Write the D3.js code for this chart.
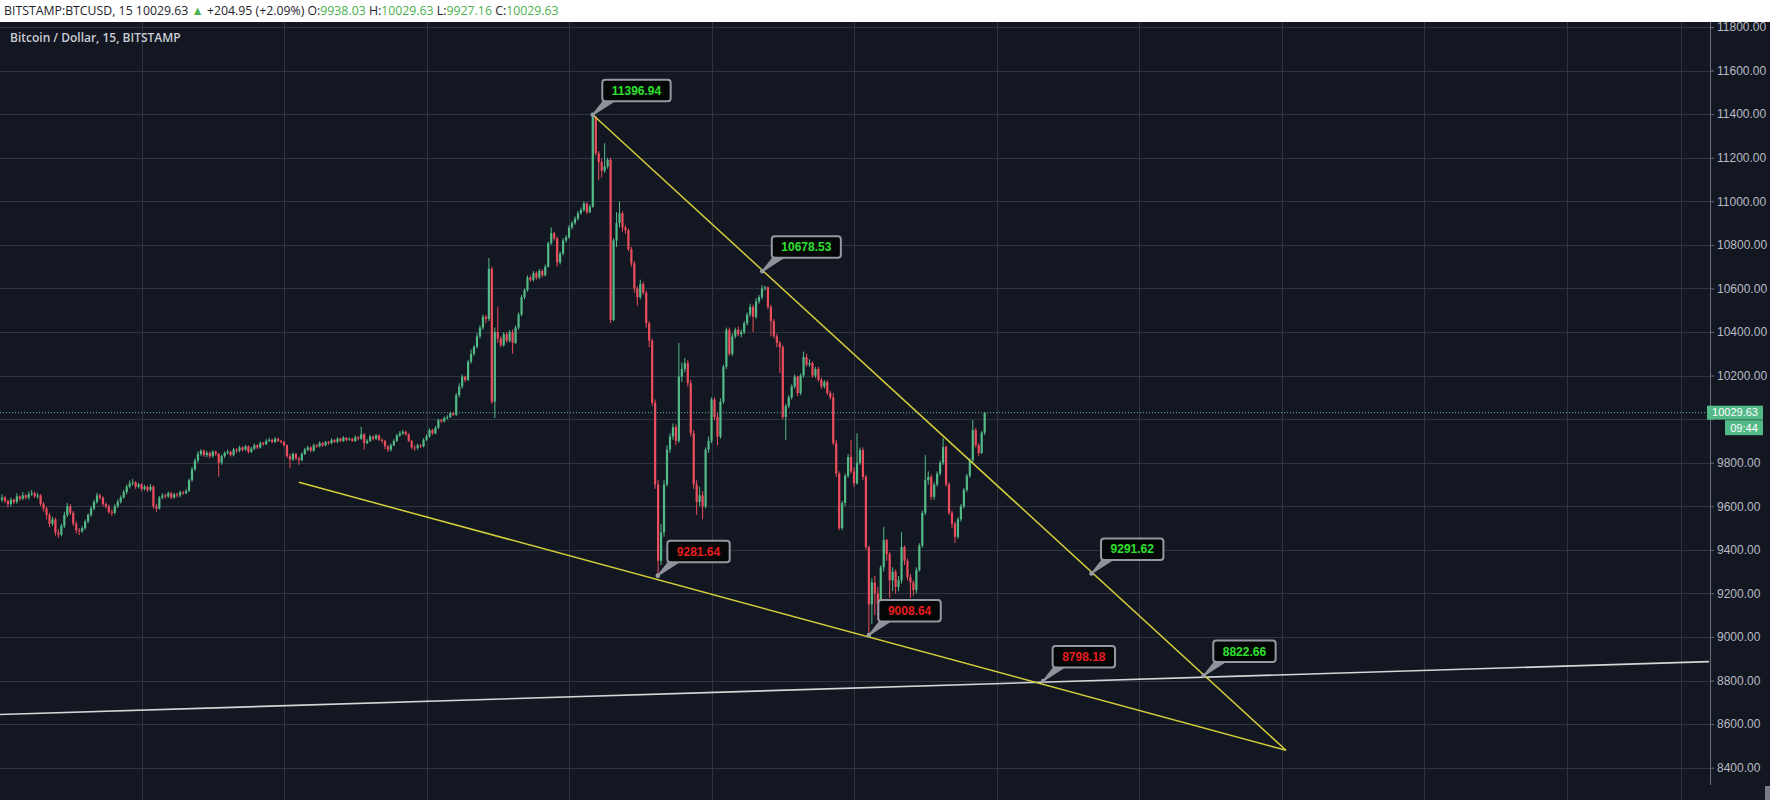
<!DOCTYPE html>
<html><head><meta charset="utf-8">
<script src="https://cdn.jsdelivr.net/npm/d3@7"></script>
<style>html,body{margin:0;padding:0;background:#131722;overflow:hidden}</style>
</head><body><svg id="c" width="1770" height="800"></svg>
<script>
// ---------- DATA ----------
const firstOpen = 9630;
const closeP = [
9640,9625,9610,9630,9620,9645,9635,9650,9640,9655,
9660,9645,9650,9610,9590,9560,9520,9540,9480,9470,
9510,9560,9600,9570,9520,9490,9485,9500,9530,9560,
9590,9620,9650,9640,9610,9600,9575,9570,9600,9620,
9640,9665,9690,9705,9710,9690,9700,9680,9690,9675,
9690,9600,9590,9640,9650,9645,9660,9640,9655,9650,
9665,9660,9670,9720,9770,9810,9840,9855,9835,9845,
9830,9850,9840,9800,9830,9845,9850,9835,9860,9855,
9870,9860,9875,9850,9865,9880,9870,9890,9885,9900,
9905,9895,9910,9900,9895,9880,9830,9815,9840,9820,
9812,9840,9860,9870,9855,9880,9875,9890,9880,9895,
9890,9905,9895,9910,9900,9915,9905,9910,9900,9917,
9910,9930,9890,9900,9920,9910,9925,9905,9900,9875,
9860,9880,9900,9925,9935,9942,9930,9900,9870,9867,
9880,9875,9905,9920,9950,9935,9960,9996,9990,10005,
10010,10028,10020,10110,10150,10195,10180,10264,10300,10332,
10380,10420,10470,10460,10690,10080,10400,10370,10340,10390,
10360,10400,10350,10420,10480,10560,10592,10650,10640,10670,
10650,10680,10660,10700,10808,10853,10830,10720,10760,10820,
10835,10880,10900,10920,10945,10960,10990,10950,10975,11390,
11220,11180,11140,11160,11190,10455,10820,10900,10945,10880,
10867,10780,10715,10600,10560,10620,10580,10440,10360,10075,
9700,9350,9480,9700,9860,9920,9963,9900,10195,10230,
10257,10165,9935,9700,9620,9650,9600,9860,9900,10090,
10010,9920,10080,10240,10410,10300,10380,10410,10390,10400,
10440,10480,10515,10470,10540,10560,10600,10605,10515,10450,
10380,10350,10330,10010,10060,10100,10150,10195,10120,10200,
10285,10250,10257,10200,10230,10180,10150,10170,10120,10100,
9890,9750,9500,9615,9740,9826,9760,9705,9800,9858,
9735,9413,9150,9250,9200,9150,9320,9445,9380,9260,
9300,9230,9260,9413,9350,9275,9250,9215,9307,9420,
9570,9720,9735,9643,9700,9750,9800,9872,9700,9570,
9520,9460,9540,9600,9675,9740,9812,9950,9880,9845,
9938.03,10029.63];
const highP = [
9655,9648,9630,9640,9635,9660,9650,9665,9655,9668,
9675,9668,9662,9655,9620,9598,9570,9552,9548,9495,
9520,9575,9615,9610,9578,9530,9500,9510,9540,9568,
9600,9630,9662,9658,9645,9618,9608,9585,9610,9632,
9650,9675,9700,9718,9725,9715,9708,9705,9698,9695,
9702,9695,9612,9648,9660,9658,9668,9665,9662,9662,
9672,9670,9680,9728,9780,9820,9852,9862,9860,9855,
9852,9858,9856,9845,9838,9852,9860,9855,9868,9866,
9878,9875,9882,9880,9872,9888,9885,9898,9895,9908,
9915,9910,9918,9915,9905,9900,9885,9840,9848,9845,
9828,9848,9868,9878,9875,9888,9885,9898,9895,9900,
9900,9912,9908,9918,9915,9922,9918,9916,9914,9925,
9922,9965,9935,9908,9928,9925,9932,9930,9912,9905,
9880,9888,9908,9932,9945,9950,9948,9935,9905,9880,
9888,9885,9912,9930,9958,9955,9968,10002,10000,10012,
10018,10035,10032,10120,10165,10205,10200,10272,10320,10340,
10395,10430,10480,10478,10740,10700,10420,10516,10380,10400,
10398,10410,10412,10430,10490,10570,10600,10660,10660,10680,
10678,10690,10688,10710,10815,10880,10860,10838,10770,10830,
10845,10890,10910,10930,10955,10972,11000,10995,10985,11396.94,
11385,11230,11195,11267,11200,11200,10830,10950,11000,10955,
10890,10875,10790,10725,10610,10640,10630,10590,10450,10370,
10090,9720,9520,9720,9880,9935,9980,9975,10350,10260,
10280,10270,10180,9950,9720,9690,9670,9870,9920,10100,
10100,10030,10095,10250,10420,10420,10395,10420,10425,10412,
10450,10490,10530,10525,10555,10570,10615,10612,10610,10525,
10460,10392,10360,10340,10070,10110,10160,10205,10200,10210,
10310,10300,10275,10265,10240,10240,10190,10180,10178,10130,
10120,9905,9760,9625,9750,9840,9905,9780,9935,9870,
9870,9745,9420,9270,9280,9230,9330,9505,9450,9390,
9320,9310,9280,9482,9420,9360,9290,9260,9320,9430,
9580,9835,9760,9745,9710,9760,9810,9913,9880,9710,
9580,9530,9550,9610,9685,9750,9820,9995,9960,9890,
9945,10029.63];
const lowP = [
9620,9615,9595,9600,9610,9612,9625,9628,9632,9630,
9648,9638,9635,9600,9575,9540,9505,9510,9465,9455,
9462,9500,9550,9560,9510,9475,9468,9478,9492,9522,
9552,9582,9612,9630,9600,9590,9565,9555,9562,9592,
9612,9635,9655,9682,9695,9680,9682,9670,9672,9665,
9668,9590,9575,9585,9632,9635,9638,9632,9635,9640,
9642,9652,9655,9665,9712,9762,9800,9830,9826,9825,
9820,9822,9830,9736,9790,9822,9838,9828,9828,9845,
9848,9852,9855,9842,9845,9858,9862,9865,9878,9880,
9895,9890,9890,9895,9888,9875,9822,9775,9808,9812,
9790,9805,9835,9852,9848,9850,9868,9870,9872,9875,
9882,9885,9890,9890,9895,9895,9898,9900,9895,9895,
9902,9905,9860,9885,9895,9902,9905,9900,9890,9862,
9850,9852,9875,9895,9918,9928,9925,9895,9862,9855,
9860,9868,9870,9900,9915,9928,9930,9955,9982,9985,
9998,10005,10015,10015,10100,10140,10170,10175,10255,10290,
10325,10370,10410,10440,10450,10070,10005,10350,10330,10332,
10350,10352,10300,10345,10410,10472,10550,10585,10630,10632,
10640,10642,10650,10655,10695,10800,10820,10700,10710,10752,
10810,10828,10870,10892,10912,10938,10952,10940,10945,10970,
11210,11097,11110,11130,11150,10440,10450,10790,10880,10860,
10850,10770,10700,10580,10520,10550,10570,10420,10330,10060,
9680,9281.64,9330,9460,9690,9845,9905,9880,9890,10170,
10215,10150,9920,9680,9560,9600,9540,9590,9845,9890,
9995,9880,9910,10070,10230,10290,10290,10370,10380,10375,
10390,10430,10470,10400,10460,10530,10550,10590,10505,10380,
10370,10330,10212,10000,9905,10050,10090,10140,10105,10110,
10190,10240,10240,10190,10190,10172,10140,10140,10110,10090,
9880,9735,9490,9490,9600,9730,9750,9690,9700,9790,
9720,9400,9008.64,9060,9100,9080,9120,9300,9350,9180,
9210,9200,9210,9245,9330,9260,9180,9190,9200,9300,
9410,9560,9700,9630,9630,9690,9740,9790,9690,9560,
9500,9432,9450,9530,9590,9665,9730,9800,9870,9830,
9840,9927.16];

const priceTicks = [8400,8600,8800,9000,9200,9400,9600,9800,10000,10200,10400,10600,10800,11000,11200,11400,11600,11800];
const vGridBars = [47,95,143,191,239,287,335,383,431,479,527,565.5];
const upperTrend = [[199,11396.94],[432.5,8480]];
const lowerTrend = [[100,9710],[432.5,8480]];
const whiteLine  = [[-1,8644],[575,8887]];
const lastPrice = 10029.63;
const countdown = "09:44";
const callouts = [
  {bar:199,   price:11396.94, text:"11396.94", up:true},
  {bar:256.1, price:10678.53, text:"10678.53", up:true},
  {bar:220.9, price:9281.64,  text:"9281.64",  up:false},
  {bar:292,   price:9008.64,  text:"9008.64",  up:false},
  {bar:367,   price:9291.62,  text:"9291.62",  up:true},
  {bar:350.7, price:8798.18,  text:"8798.18",  up:false},
  {bar:404.8, price:8822.66,  text:"8822.66",  up:true}
];
const headerParts = [
  ["BITSTAMP:BTCUSD, 15 ","#1e222d"],["10029.63 ","#1e222d"],["\u25B2 ","#4caf50"],
  ["+204.95 (+2.09%) ","#1e222d"],["O:","#1e222d"],["9938.03 ","#4caf50"],
  ["H:","#1e222d"],["10029.63 ","#4caf50"],["L:","#1e222d"],["9927.16 ","#4caf50"],
  ["C:","#1e222d"],["10029.63","#4caf50"]
];
const title = "Bitcoin / Dollar, 15, BITSTAMP";

// ---------- LAYOUT ----------
const W = 1770, H = 800, plotTop = 22, plotBottom = 785, axisX = 1710;
const svg = d3.select("#c");
const x = d3.scaleLinear().domain([0,48]).range([2, 2+142.5]);
const y = d3.scaleLinear().domain([8400,11800]).range([767.7,27]);

svg.append("rect").attr("width",W).attr("height",H).attr("fill","#131722");
svg.append("rect").attr("width",W).attr("height",plotTop).attr("fill","#ffffff");

const defs = svg.append("defs");
defs.append("clipPath").attr("id","plot").append("rect")
  .attr("x",0).attr("y",plotTop).attr("width",axisX).attr("height",plotBottom-plotTop);

// grid
const grid = svg.append("g").attr("stroke","#2f3441").attr("stroke-width",1);
grid.selectAll("line.h").data(priceTicks).join("line").attr("class","h")
  .attr("x1",0).attr("x2",axisX)
  .attr("y1",d=>Math.round(y(d))+0.5).attr("y2",d=>Math.round(y(d))+0.5);
grid.selectAll("line.v").data(vGridBars).join("line").attr("class","v")
  .attr("x1",d=>Math.round(x(d))+0.5).attr("x2",d=>Math.round(x(d))+0.5)
  .attr("y1",plotTop).attr("y2",H);

// title
svg.append("text").attr("x",10).attr("y",42).text(title)
  .attr("font-family","'Open Sans', 'Noto Sans', sans-serif").attr("font-size",12)
  .attr("font-weight",600).attr("fill","#c9ccd4");

// candles
const plot = svg.append("g").attr("clip-path","url(#plot)");
const bars = closeP.map((c,i)=>({i, o: i===0?firstOpen:closeP[i-1], c, h: highP[i], l: lowP[i]}));
const upC = "#53b987", dnC = "#eb4d5c";
const cg = plot.append("g");
cg.selectAll("line").data(bars).join("line")
  .attr("x1",d=>x(d.i)).attr("x2",d=>x(d.i))
  .attr("y1",d=>y(d.h)).attr("y2",d=>y(d.l))
  .attr("stroke",d=>d.c>=d.o?upC:dnC).attr("stroke-width",1);
cg.selectAll("rect").data(bars).join("rect")
  .attr("x",d=>x(d.i)-1.1).attr("width",2.2)
  .attr("y",d=>y(Math.max(d.o,d.c)))
  .attr("height",d=>Math.max(1,Math.abs(y(d.o)-y(d.c))))
  .attr("fill",d=>d.c>=d.o?upC:dnC);

// last price dotted line
plot.append("line").attr("x1",0).attr("x2",axisX)
  .attr("y1",y(lastPrice)).attr("y2",y(lastPrice))
  .attr("stroke","#5fb59a").attr("stroke-width",1).attr("stroke-dasharray","1,2");

// trend lines
const lineGen = d3.line().x(d=>x(d[0])).y(d=>y(d[1]));
plot.append("path").attr("d",lineGen(whiteLine)).attr("stroke","#d6d6d6").attr("stroke-width",1.6).attr("fill","none");
plot.append("path").attr("d",lineGen(upperTrend)).attr("stroke","#d4ce3a").attr("stroke-width",1.5).attr("fill","none");
plot.append("path").attr("d",lineGen(lowerTrend)).attr("stroke","#d4ce3a").attr("stroke-width",1.5).attr("fill","none");

// callouts
const cl = plot.append("g");
callouts.forEach(c=>{
  const px = x(c.bar), py = y(c.price);
  const g = cl.append("g");
  const t = g.append("text").text(c.text)
    .attr("font-family","'Liberation Sans', Arial, sans-serif").attr("font-size",12).attr("font-weight","bold");
  const tw = t.node().getComputedTextLength();
  const bw = tw + 19, bh = 21.5, bl = px + 9.5, bb = py - 13.5, bt = bb - bh;
  g.insert("path","text").attr("d",`M${bl+2},${bb-1} L${px},${py} L${bl+13},${bb-1} Z`)
    .attr("fill","#8f929a").attr("stroke","#8f929a").attr("stroke-width",1.5).attr("stroke-linejoin","round");
  g.insert("rect","text").attr("x",bl).attr("y",bt).attr("width",bw).attr("height",bh)
    .attr("rx",3).attr("fill","#050608").attr("stroke","#9598a0").attr("stroke-width",2);
  t.attr("x",bl+bw/2).attr("y",bt+bh/2+4.2).attr("text-anchor","middle")
    .attr("fill",c.up?"#2fe02f":"#e61e1e");
  g.append("circle").attr("cx",px).attr("cy",py).attr("r",2.3).attr("fill","#9a9da6");
});

// y axis (the tick label hidden under the last-price tag is left out, as on the platform)
const ly = y(lastPrice);
const ax = svg.append("g").attr("transform",`translate(${axisX},0)`)
  .call(d3.axisRight(y).tickValues(priceTicks).tickFormat(d3.format(".2f")).tickSize(4).tickPadding(3));
ax.select(".domain").remove();
ax.append("line").attr("x1",0.5).attr("x2",0.5).attr("y1",plotTop).attr("y2",plotBottom).attr("stroke","#6a6e78");
ax.selectAll(".tick line").attr("stroke","#6a6e78");
ax.selectAll(".tick text").attr("fill","#b8bbc3").attr("font-size",12)
  .attr("font-family","'Liberation Sans', Arial, sans-serif");
ax.selectAll(".tick").filter(d=>Math.abs(y(d)-ly) < 24).select("text").remove();
svg.append("rect").attr("x",1765).attr("y",786).attr("width",5).attr("height",14).attr("fill","#7a7d86");

// last price tag
svg.append("rect").attr("x",axisX-3).attr("y",ly-7).attr("width",56).attr("height",14).attr("fill","#53b987");
svg.append("text").attr("x",axisX+25).attr("y",ly+3.8).attr("text-anchor","middle").text(d3.format(".2f")(lastPrice))
  .attr("fill","#ffffff").attr("font-size",11).attr("font-family","'Liberation Sans', Arial, sans-serif");
svg.append("rect").attr("x",axisX+15).attr("y",ly+7.5).attr("width",38).attr("height",15).attr("fill","#53b987");
svg.append("text").attr("x",axisX+34).attr("y",ly+19.3).attr("text-anchor","middle").text(countdown)
  .attr("fill","#ffffff").attr("font-size",11).attr("font-family","'Liberation Sans', Arial, sans-serif");

// header
const ht = svg.append("text").attr("x",4).attr("y",15)
  .attr("font-family","'Open Sans', 'Noto Sans', sans-serif").attr("font-size",12.3)
  .attr("style","white-space:pre");
headerParts.forEach(p=>ht.append("tspan").text(p[0]).attr("fill",p[1]));
</script></body></html>
